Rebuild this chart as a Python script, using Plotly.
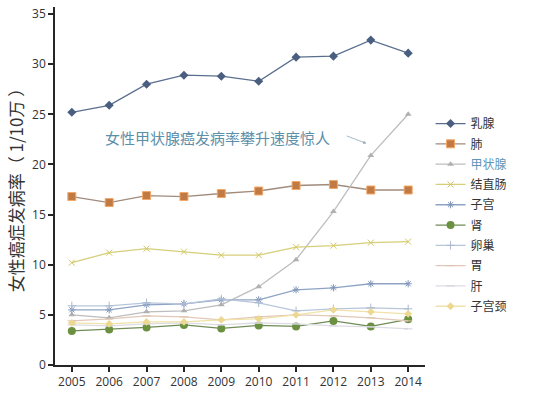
import plotly.graph_objects as go

years = [2005, 2006, 2007, 2008, 2009, 2010, 2011, 2012, 2013, 2014]

breast     = [25.2, 25.9, 28.0, 28.9, 28.8, 28.3, 30.7, 30.8, 32.4, 31.1]
lung       = [16.8, 16.2, 16.9, 16.8, 17.1, 17.35, 17.9, 18.0, 17.45, 17.45]
thyroid    = [5.0, 4.7, 5.3, 5.4, 6.0, 7.8, 10.5, 15.3, 20.9, 25.0]
colorectal = [10.2, 11.2, 11.6, 11.3, 10.95, 10.95, 11.75, 11.9, 12.2, 12.3]
uterus     = [5.5, 5.5, 6.0, 6.1, 6.5, 6.5, 7.5, 7.7, 8.1, 8.1]
kidney     = [3.4, 3.55, 3.75, 4.0, 3.65, 3.95, 3.85, 4.4, 3.85, 4.55]
ovary      = [5.9, 5.9, 6.2, 6.1, 6.6, 6.2, 5.4, 5.6, 5.7, 5.6]
stomach    = [4.4, 4.6, 4.9, 4.8, 4.5, 4.8, 5.0, 4.9, 4.7, 4.4]
liver      = [4.0, 3.9, 4.1, 4.2, 4.0, 4.2, 4.1, 3.9, 3.8, 3.6]
cervix     = [4.2, 4.1, 4.3, 4.3, 4.5, 4.6, 5.0, 5.5, 5.3, 5.1]

y_ticks = [0, 5, 10, 15, 20, 25, 30, 35]

series = [
    ("乳腺", breast, "#5a6f8f", dict(symbol="diamond", size=7, color="#4a5f80")),
    ("肺", lung, "#a08b7c", dict(symbol="square", size=8, color="#c27a45",
                                 line=dict(color="#f2a868", width=1))),
    ("<span style='color:#5f95b8'>甲状腺</span>", thyroid, "#bdbdbd",
     dict(symbol="triangle-up", size=6, color="#b0b0b0")),
    ("结直肠", colorectal, "#d6cf7a", dict(symbol="x-thin", size=6,
                                         line=dict(color="#d0c860", width=1))),
    ("子宫", uterus, "#8ea4c4", dict(symbol="asterisk", size=6,
                                   line=dict(color="#7f96ba", width=1))),
    ("肾", kidney, "#6f8c55", dict(symbol="circle", size=8, color="#6b9040")),
    ("卵巢", ovary, "#b8c6da", dict(symbol="cross-thin", size=6,
                                  line=dict(color="#aab8d0", width=1))),
    ("胃", stomach, "#e2c8b8", dict(symbol="line-ew", size=6,
                                  line=dict(color="#d8c0b0", width=1))),
    ("肝", liver, "#dcdce4", dict(symbol="line-ew", size=6,
                                  line=dict(color="#d0d0d8", width=1))),
    ("子宫颈", cervix, "#f0e2a8", dict(symbol="diamond", size=6, color="#ecd890")),
]

fig = go.Figure()
for i, (name, vals, lc, mk) in enumerate(series):
    fig.add_trace(go.Scatter(
        x=years, y=vals, name=name, mode="lines+markers",
        line=dict(color=lc, width=1.3), marker=mk, legendgroup=f"g{i}",
    ))

fig.add_annotation(
    x=2008.9, y=22.7, xref="x", yref="y",
    text="女性甲状腺癌发病率攀升速度惊人", showarrow=False,
    font=dict(family="Noto Sans CJK SC", size=15, color="#5b8faa"),
)
fig.add_annotation(
    x=2012.88, y=22.1, xref="x", yref="y", ax=-21, ay=-8,
    text="", showarrow=True, arrowhead=2, arrowsize=0.8, arrowwidth=0.8,
    arrowcolor="#8fa8b8",
)

fig.update_layout(
    width=546, height=395,
    margin=dict(l=55, r=121, t=5, b=27),
    paper_bgcolor="white", plot_bgcolor="white",
    font=dict(family="Open Sans, Noto Sans CJK SC", size=11, color="#333"),
    showlegend=True,
    legend=dict(
        x=1.015, y=0.715, xanchor="left", yanchor="top",
        font=dict(family="Noto Sans CJK SC", size=12, color="#333"),
        itemwidth=30, tracegroupgap=1.3, bgcolor="rgba(0,0,0,0)",
    ),
    xaxis=dict(
        range=[2004.55, 2014.45], tickvals=years, showgrid=False,
        zeroline=False, showline=True, linecolor="#262626", linewidth=1.5,
        ticks="outside", ticklen=5, tickcolor="#262626", tickwidth=1.5,
        tickfont=dict(family="Open Sans", size=12, color="#333"),
    ),
    yaxis=dict(
        range=[0, 35.7], tickvals=y_ticks, showgrid=False, zeroline=False,
        showline=True, linecolor="#262626", linewidth=1.5,
        ticks="outside", ticklen=5, tickcolor="#262626", tickwidth=1.5,
        tickfont=dict(family="Open Sans", size=12, color="#333"),
        title=dict(text="女性癌症发病率（ 1/10万 ）",
                   font=dict(family="Noto Sans CJK SC", size=17, color="#333"),
                   standoff=4),
    ),
)

fig.write_html("out.html", config={"displayModeBar": False},
               post_script="document.body.style.margin='0';")
